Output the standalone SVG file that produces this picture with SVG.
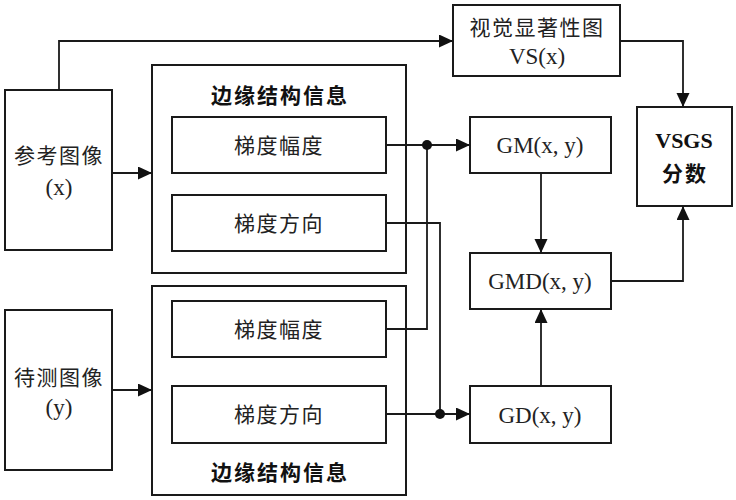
<svg xmlns="http://www.w3.org/2000/svg" width="736" height="500" viewBox="0 0 736 500">
<style>
.box{fill:#fff;stroke:#1a1a1a;stroke-width:2}
.ln{fill:none;stroke:#1a1a1a;stroke-width:1.8}
.cn{font-family:"Noto Sans CJK SC",sans-serif;font-size:21px;fill:#222;text-anchor:middle;letter-spacing:1.5px}
.cb{font-family:"Noto Sans CJK SC",sans-serif;font-size:21px;font-weight:bold;fill:#111;text-anchor:middle;letter-spacing:2px}
.en{font-family:"Liberation Serif",serif;font-size:23px;fill:#222;text-anchor:middle}
.eb{font-family:"Liberation Serif",serif;font-size:22px;font-weight:bold;fill:#111;text-anchor:middle}
</style>
<defs>
<marker id="ah" markerUnits="userSpaceOnUse" markerWidth="15" markerHeight="14" refX="14" refY="6.5" orient="auto">
<path d="M0,0 L14,6.5 L0,13 Z" fill="#111"/>
</marker>
</defs>
<rect width="736" height="500" fill="#fff"/>
<g id="ref">
<rect class="box" x="5" y="90" width="107" height="160"/>
<text class="cn" x="59" y="163">参考图像</text>
<text class="en" x="59" y="195">(x)</text>
</g>
<g id="test">
<rect class="box" x="5" y="310" width="107" height="160"/>
<text class="cn" x="59" y="385">待测图像</text>
<text class="en" x="59" y="415">(y)</text>
</g>
<g id="edge1">
<rect class="box" x="152" y="65" width="254" height="208"/>
<text class="cb" x="280" y="103">边缘结构信息</text>
</g>
<g id="gm1">
<rect class="box" x="172" y="117" width="214" height="56"/>
<text class="cn" x="279" y="153">梯度幅度</text>
</g>
<g id="gd1">
<rect class="box" x="172" y="195" width="214" height="56"/>
<text class="cn" x="279" y="231">梯度方向</text>
</g>
<g id="edge2">
<rect class="box" x="152" y="286" width="254" height="209"/>
<text class="cb" x="280" y="480">边缘结构信息</text>
</g>
<g id="gm2">
<rect class="box" x="172" y="301" width="214" height="56"/>
<text class="cn" x="279" y="337">梯度幅度</text>
</g>
<g id="gd2">
<rect class="box" x="172" y="386" width="214" height="57"/>
<text class="cn" x="279" y="422">梯度方向</text>
</g>
<g id="vs">
<rect class="box" x="453" y="5" width="167" height="71"/>
<text class="cn" x="537" y="35">视觉显著性图</text>
<text class="en" x="537" y="64">VS(x)</text>
</g>
<g id="gm">
<rect class="box" x="470" y="117" width="141" height="56"/>
<text class="en" x="540" y="153">GM(x, y)</text>
</g>
<g id="gmd">
<rect class="box" x="470" y="253" width="141" height="56"/>
<text class="en" x="540" y="289">GMD(x, y)</text>
</g>
<g id="gd">
<rect class="box" x="470" y="386" width="141" height="57"/>
<text class="en" x="540" y="423">GD(x, y)</text>
</g>
<g id="vsgs">
<rect class="box" x="637" y="107" width="95" height="99"/>
<text class="eb" x="684" y="148">VSGS</text>
<text class="cb" x="685" y="181">分数</text>
</g>
<g id="connectors">
<path class="ln" d="M59,90 V41 H453" marker-end="url(#ah)"/>
<path class="ln" d="M112,173 H152" marker-end="url(#ah)"/>
<path class="ln" d="M112,390 H152" marker-end="url(#ah)"/>
<path class="ln" d="M386,145 H470" marker-end="url(#ah)"/>
<path class="ln" d="M386,329 H427 V145"/>
<path class="ln" d="M386,223 H440 V414"/>
<path class="ln" d="M386,414 H470" stroke-width="2.4" marker-end="url(#ah)"/>
<circle cx="427" cy="145" r="5" fill="#111"/>
<circle cx="440" cy="414" r="5" fill="#111"/>
<path class="ln" d="M541,173 V253" marker-end="url(#ah)"/>
<path class="ln" d="M541,386 V309" marker-end="url(#ah)"/>
<path class="ln" d="M620,41 H683 V107" marker-end="url(#ah)"/>
<path class="ln" d="M611,281 H683 V206" marker-end="url(#ah)"/>
</g>
</svg>
